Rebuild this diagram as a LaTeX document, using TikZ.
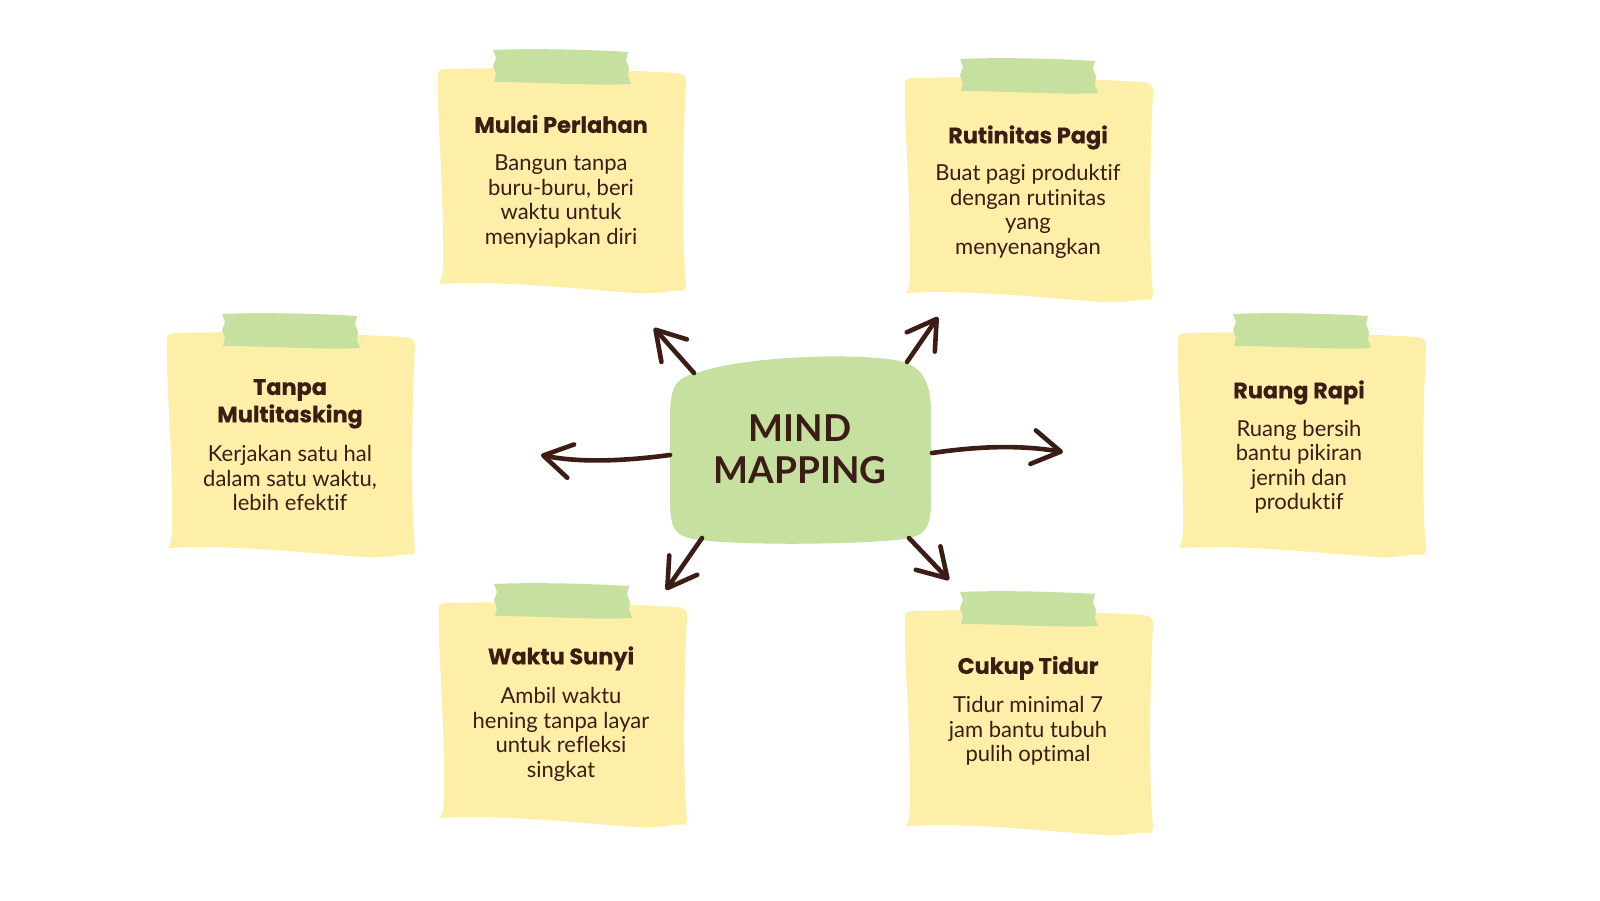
\documentclass[tikz,border=0pt]{standalone}
\usepackage{fontspec}
\setmainfont{Lato}[Ligatures={NoCommon}]
\newfontfamily\titlefont{Poppins}[BoldFeatures={FakeBold=0.5}]
\usetikzlibrary{arrows.meta}
\definecolor{ink}{HTML}{3B1D16}
\definecolor{paperY}{HTML}{FDEFA8}
\definecolor{tapeG}{HTML}{C6E0A0}
\definecolor{hubG}{HTML}{C6E0A0}
\tikzset{
  notetitle/.style={inner sep=0pt, anchor=north, align=center, text=ink, font=\titlefont\bfseries\fontsize{11.2pt}{12.5pt}\selectfont},
  notebody/.style={inner sep=0pt, anchor=north, align=center, text=ink, font=\fontsize{11pt}{12.25pt}\selectfont},
  hubtext/.style={inner sep=0pt, align=center, text=ink, font=\bfseries\fontsize{18.5pt}{21pt}\selectfont},
  arr/.style={draw=ink, line width=2.3pt, line cap=round, -{Straight Barb[length=14pt,width=17pt,line cap=round,line join=round]}},
}
\newcommand\stickynote[2]{%
  \begin{scope}[shift={(#1,#2)}]
    \fill[paperY] (2,8) .. controls (1,3) and (4,1) .. (12,1)
      .. controls (90,-1) and (190,2) .. (240,5)
      .. controls (248,6) and (251,9) .. (250,16)
      .. controls (247,70) and (246,160) .. (249,205)
      .. controls (250,215) and (251,222) .. (247,223)
      .. controls (238,221) and (228,226) .. (200,225)
      .. controls (150,222) and (70,212) .. (3,216)
      .. controls (8,208) and (7,195) .. (7,175)
      .. controls (7,110) and (1,50) .. (2,8) -- cycle;
    \fill[tapeG] (57,-18) .. controls (100,-20) and (160,-18) .. (192,-16)
      -- (190,-8) -- (193,0) -- (192,8) -- (195,16)
      .. controls (160,18) and (100,14) .. (58,14)
      -- (60,6) -- (57,-2) -- (60,-10) -- cycle;
  \end{scope}}
\begin{document}
\begin{tikzpicture}[x=0.5pt,y=-0.5pt]
  \fill[white] (0,0) rectangle (1600,900);
  \useasboundingbox (0,0) rectangle (1600,900);

  % sticky notes
  \stickynote{436}{68}
  \stickynote{903}{77}
  \stickynote{1176}{332}
  \stickynote{165}{332}
  \stickynote{437}{602}
  \stickynote{903}{610}

  \node[notetitle] (t1) at (561,114.5) {\strut Mulai Perlahan};
  \node[notebody]  (b1) at (561,153) {\strut Bangun tanpa\\buru-buru, beri\\waktu untuk\\menyiapkan diri};

  \node[notetitle] (t2) at (1028,125) {\strut Rutinitas Pagi};
  \node[notebody]  (b2) at (1028,163) {\strut Buat pagi produktif\\dengan rutinitas\\yang\\menyenangkan};

  \node[notetitle] (t3) at (1299,380) {\strut Ruang Rapi};
  \node[notebody]  (b3) at (1299,418.5) {\strut Ruang bersih\\bantu pikiran\\jernih dan\\produktif};

  \node[notetitle] (t4) at (290,377) {\strut Tanpa\\Multitasking};
  \node[notebody]  (b4) at (290,444) {\strut Kerjakan satu hal\\dalam satu waktu,\\lebih efektif};

  \node[notetitle] (t5) at (561,646) {\strut Waktu Sunyi};
  \node[notebody]  (b5) at (561,686) {\strut Ambil waktu\\hening tanpa layar\\untuk refleksi\\singkat};

  \node[notetitle] (t6) at (1028,655.5) {\strut Cukup Tidur};
  \node[notebody]  (b6) at (1028,695) {\strut Tidur minimal 7\\jam bantu tubuh\\pulih optimal};

  % hub
  \fill[hubG] (700,372) .. controls (740,358) and (840,352) .. (895,360)
    .. controls (925,365) and (932,385) .. (931,420) -- (931,500)
    .. controls (931,530) and (925,538) .. (895,540)
    .. controls (840,545) and (740,545) .. (700,540)
    .. controls (675,537) and (670,530) .. (670,500) -- (670,420)
    .. controls (670,385) and (675,378) .. (700,372) -- cycle;
  \node[hubtext] (hub) at (800,449.5) {MIND\\MAPPING};

  % arrow ends
  \coordinate (s1) at (694,373); \coordinate (e1) at (654,328);
  \coordinate (s2) at (907,362); \coordinate (e2) at (938,317);
  \coordinate (s3) at (670,455); \coordinate (e3) at (541,455);
  \coordinate (s4) at (932,453); \coordinate (e4) at (1063,452);
  \coordinate (s5) at (702,538); \coordinate (e5) at (666,590);
  \coordinate (s6) at (909,538); \coordinate (e6) at (949,580);

  \draw[arr] (s1) -- (e1);
  \draw[arr] (s2) -- (e2);
  \draw[arr] (s3) .. controls (625,461) and (580,463) .. (e3);
  \draw[arr] (s4) .. controls (980,446) and (1020,445) .. (e4);
  \draw[arr] (s5) -- (e5);
  \draw[arr] (s6) -- (e6);
\end{tikzpicture}
\end{document}
